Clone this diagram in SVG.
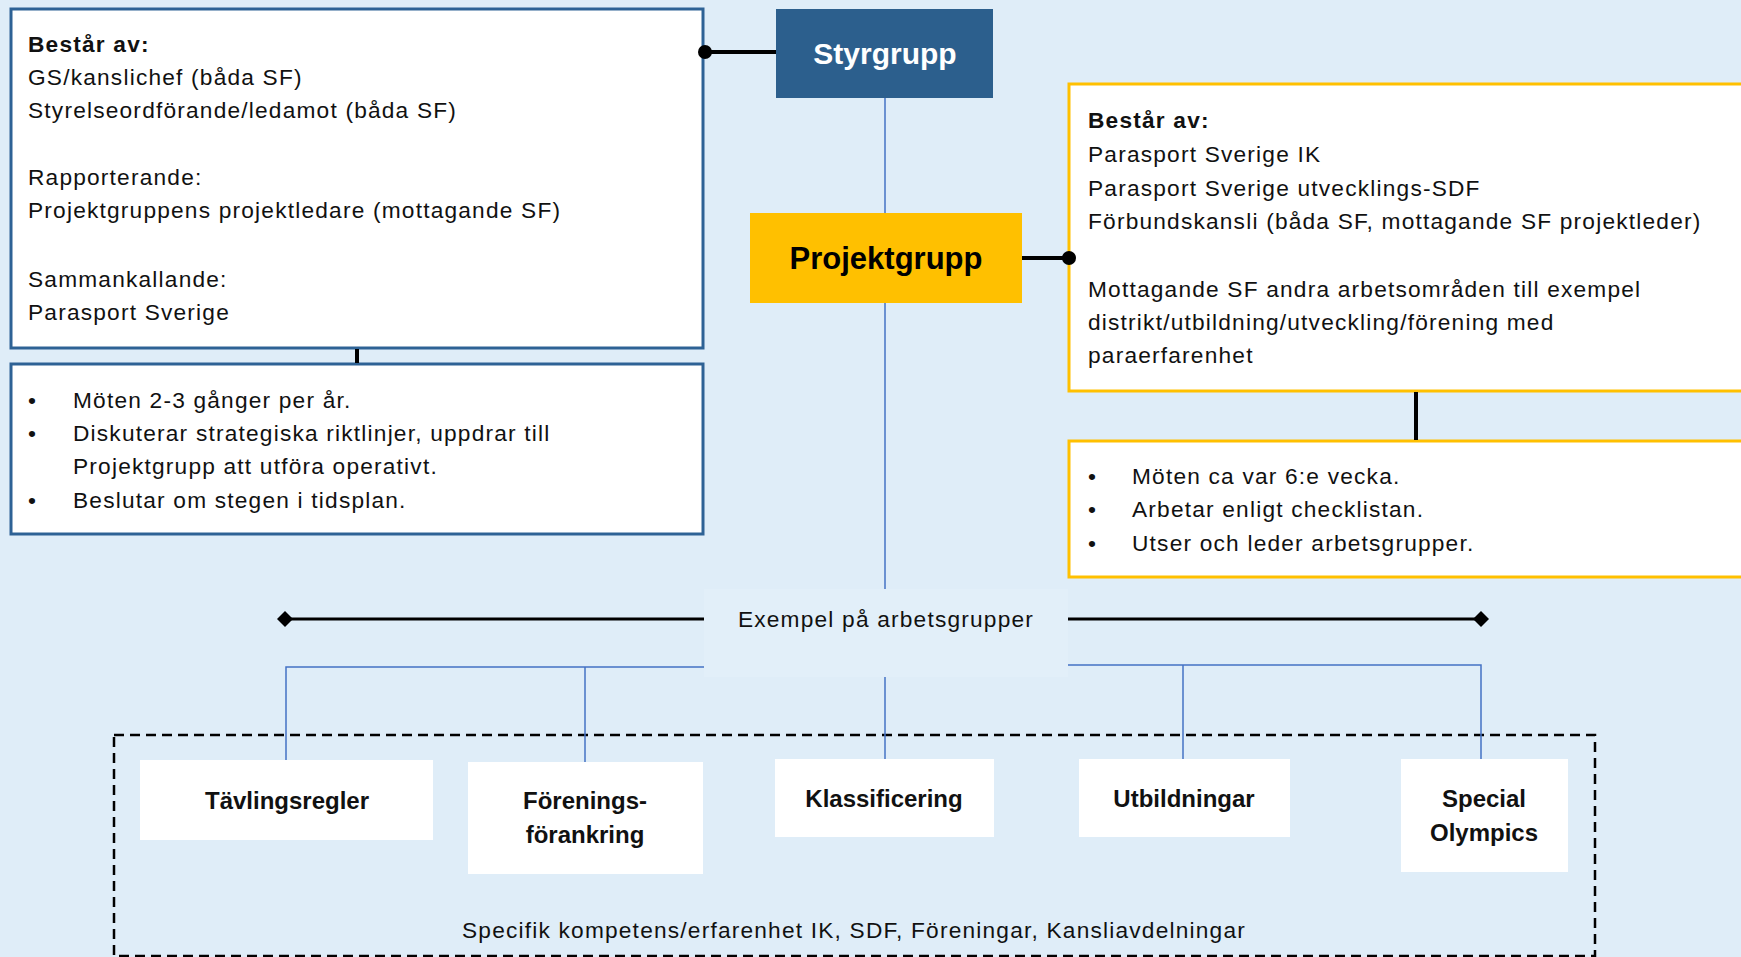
<svg xmlns="http://www.w3.org/2000/svg" width="1741" height="957" viewBox="0 0 1741 957">
<defs>
<style>
.t{font-family:"Liberation Sans",Arial,sans-serif;font-size:22.7px;letter-spacing:1.2px;fill:#111;}
.b{font-weight:bold;}
.c{font-family:"Liberation Sans",Arial,sans-serif;font-weight:bold;font-size:24px;fill:#111;text-anchor:middle;}
.blue{stroke:#4472C4;stroke-width:1.5;fill:none;}
.blk{stroke:#000;stroke-width:4;fill:none;}
.wb{fill:#fff;}
</style>
<marker id="dia" viewBox="0 0 16 16" refX="8" refY="8" markerWidth="16" markerHeight="16" markerUnits="userSpaceOnUse" orient="auto">
<path d="M0,8 L8,0 L16,8 L8,16 Z" fill="#000"/>
</marker>
</defs>
<rect x="0" y="0" width="1741" height="957" fill="#DFEDF8"/>

<g id="styrgrupp-info">
<rect x="11" y="9" width="692" height="339" fill="#fff" stroke="#2E6295" stroke-width="3"/>
<text class="t b" x="28" y="52">Består av:</text>
<text class="t" x="28" y="85">GS/kanslichef (båda SF)</text>
<text class="t" x="28" y="118">Styrelseordförande/ledamot (båda SF)</text>
<text class="t" x="28" y="185">Rapporterande:</text>
<text class="t" x="28" y="218">Projektgruppens projektledare (mottagande SF)</text>
<text class="t" x="28" y="287">Sammankallande:</text>
<text class="t" x="28" y="320">Parasport Sverige</text>
</g>

<g id="styrgrupp-tasks">
<rect x="11" y="364" width="692" height="170" fill="#fff" stroke="#2E6295" stroke-width="3"/>
<text class="t" x="28" y="408">•</text>
<text class="t" x="73" y="408">Möten 2-3 gånger per år.</text>
<text class="t" x="28" y="441">•</text>
<text class="t" x="73" y="441">Diskuterar strategiska riktlinjer, uppdrar till</text>
<text class="t" x="73" y="474">Projektgrupp att utföra operativt.</text>
<text class="t" x="28" y="508">•</text>
<text class="t" x="73" y="508">Beslutar om stegen i tidsplan.</text>
</g>

<g id="styrgrupp">
<rect x="776" y="9" width="217" height="89" fill="#2C5F8D"/>
<text x="885" y="64" text-anchor="middle" font-family="Liberation Sans, Arial, sans-serif" font-weight="bold" font-size="30" fill="#fff">Styrgrupp</text>
</g>

<g id="projektgrupp">
<rect x="750" y="213" width="272" height="90" fill="#FFC000"/>
<text x="886" y="269" text-anchor="middle" font-family="Liberation Sans, Arial, sans-serif" font-weight="bold" font-size="31" fill="#000">Projektgrupp</text>
</g>

<g id="projektgrupp-info">
<rect x="1069" y="84" width="700" height="307" fill="#fff" stroke="#FFC000" stroke-width="3"/>
<text class="t b" x="1088" y="128">Består av:</text>
<text class="t" x="1088" y="162">Parasport Sverige IK</text>
<text class="t" x="1088" y="196">Parasport Sverige utvecklings-SDF</text>
<text class="t" x="1088" y="229">Förbundskansli (båda SF, mottagande SF projektleder)</text>
<text class="t" x="1088" y="297">Mottagande SF andra arbetsområden till exempel</text>
<text class="t" x="1088" y="330">distrikt/utbildning/utveckling/förening med</text>
<text class="t" x="1088" y="363">paraerfarenhet</text>
</g>

<g id="projektgrupp-tasks">
<rect x="1069" y="441" width="700" height="136" fill="#fff" stroke="#FFC000" stroke-width="3"/>
<text class="t" x="1088" y="484">•</text>
<text class="t" x="1132" y="484">Möten ca var 6:e vecka.</text>
<text class="t" x="1088" y="517">•</text>
<text class="t" x="1132" y="517">Arbetar enligt checklistan.</text>
<text class="t" x="1088" y="551">•</text>
<text class="t" x="1132" y="551">Utser och leder arbetsgrupper.</text>
</g>

<g id="exempel-label">
<rect x="704" y="589" width="364" height="88" fill="#E2EFF9"/>
<text class="t" x="886" y="627" text-anchor="middle">Exempel på arbetsgrupper</text>
</g>

<g id="arbetsgrupper-container">
<rect x="114" y="735" width="1481" height="221" fill="none" stroke="#000" stroke-width="2.5" stroke-dasharray="10,6"/>
<text class="t" x="854" y="938" text-anchor="middle">Specifik kompetens/erfarenhet IK, SDF, Föreningar, Kansliavdelningar</text>
</g>

<g id="tavlingsregler">
<rect class="wb" x="140" y="760" width="293" height="80"/>
<text class="c" x="287" y="809">Tävlingsregler</text>
</g>
<g id="foreningsforankring">
<rect class="wb" x="468" y="762" width="235" height="112"/>
<text class="c" x="585" y="809">Förenings-</text>
<text class="c" x="585" y="843">förankring</text>
</g>
<g id="klassificering">
<rect class="wb" x="775" y="759" width="219" height="78"/>
<text class="c" x="884" y="807">Klassificering</text>
</g>
<g id="utbildningar">
<rect class="wb" x="1079" y="759" width="211" height="78"/>
<text class="c" x="1184" y="807">Utbildningar</text>
</g>
<g id="special-olympics">
<rect class="wb" x="1401" y="759" width="167" height="113"/>
<text class="c" x="1484" y="807">Special</text>
<text class="c" x="1484" y="841">Olympics</text>
</g>

<g id="connectors">
<line class="blue" x1="885" y1="98" x2="885" y2="213" stroke-width="1.2"/>
<line class="blue" x1="885" y1="303" x2="885" y2="589" stroke-width="1.2"/>
<line class="blue" x1="885" y1="677" x2="885" y2="759"/>
<polyline class="blue" points="286,760 286,667 704,667"/>
<line class="blue" x1="585" y1="667" x2="585" y2="762"/>
<polyline class="blue" points="1068,665 1481,665 1481,759"/>
<line class="blue" x1="1183" y1="665" x2="1183" y2="759"/>
<line class="blk" x1="704" y1="52" x2="776" y2="52"/>
<circle cx="705" cy="52" r="7" fill="#000"/>
<line class="blk" x1="1022" y1="258" x2="1069" y2="258"/>
<circle cx="1069" cy="258" r="7" fill="#000"/>
<line class="blk" x1="357" y1="349" x2="357" y2="363"/>
<line class="blk" x1="1416" y1="392" x2="1416" y2="440"/>
<line x1="285" y1="619" x2="704" y2="619" stroke="#000" stroke-width="3" marker-start="url(#dia)"/>
<line x1="1068" y1="619" x2="1481" y2="619" stroke="#000" stroke-width="3" marker-end="url(#dia)"/>
</g>
</svg>
